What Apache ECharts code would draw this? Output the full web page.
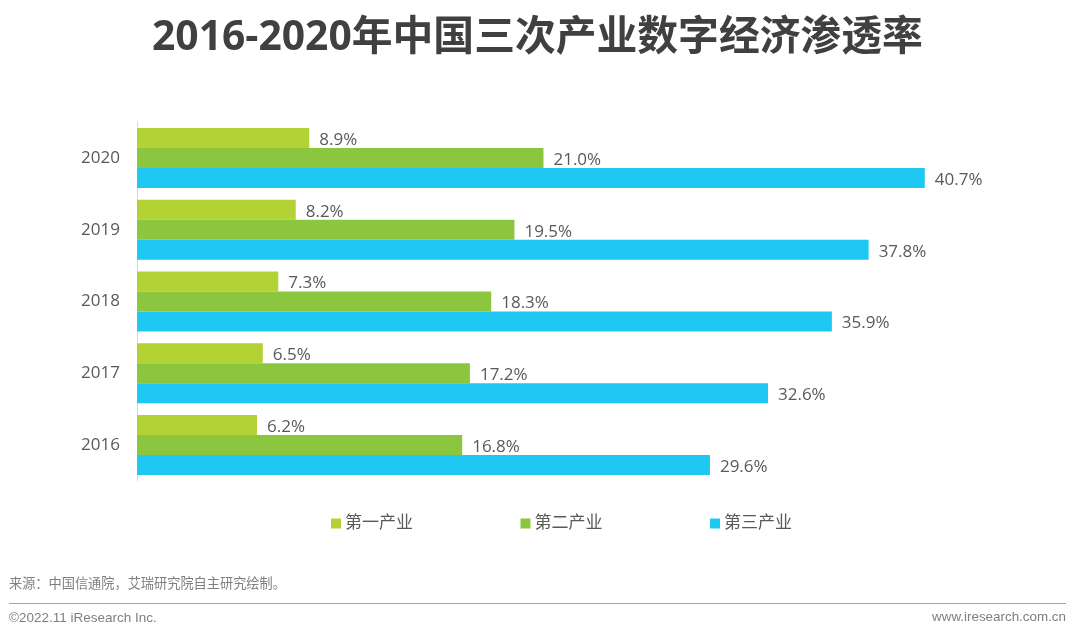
<!DOCTYPE html>
<html>
<head>
<meta charset="utf-8">
<style>
html, body { margin: 0; padding: 0; background: #fff; }
#main { width: 1080px; height: 638px; }
</style>
<script src="https://cdn.jsdelivr.net/npm/echarts@6/dist/echarts.min.js"></script>
</head>
<body>
<div id="main"></div>
<script>
var years = ['2020', '2019', '2018', '2017', '2016'];
var primary = [8.9, 8.2, 7.3, 6.5, 6.2];
var secondary = [21.0, 19.5, 18.3, 17.2, 16.8];
var tertiary = [40.7, 37.8, 35.9, 32.6, 29.6];
var seriesNames = ['第一产业', '第二产业', '第三产业'];
var seriesColors = ['#b2d235', '#8cc63f', '#1ec8f2'];

var fontStack = '"Open Sans", "Noto Sans CJK SC", sans-serif';

function makeSeries(idx, values) {
    return {
        name: seriesNames[idx],
        type: 'bar',
        data: values,
        barWidth: 20,
        barGap: 0,
        itemStyle: { color: seriesColors[idx] },
        label: {
            show: true,
            position: 'right',
            distance: 10,
            offset: [0, 2],
            color: '#595959',
            fontFamily: fontStack,
            fontSize: 17,
            formatter: function (p) {
                return p.value.toFixed(1) + '%';
            }
        }
    };
}

var myChart = echarts.init(document.getElementById('main'), null, { renderer: 'canvas' });
myChart.setOption({
    animation: false,
    backgroundColor: '#fff',
    title: {
        text: '2016-2020年中国三次产业数字经济渗透率',
        left: 147,
        top: 13,
        textStyle: {
            fontFamily: fontStack,
            fontSize: 40.8,
            fontWeight: 'bold',
            color: '#404040'
        }
    },
    grid: { left: 137, top: 122, width: 871, height: 359 },
    legend: {
        left: 331,
        top: 515,
        padding: 0,
        itemWidth: 10,
        itemHeight: 10,
        itemGap: 107.5,
        icon: 'rect',
        data: seriesNames,
        textStyle: {
            fontFamily: fontStack,
            fontSize: 17,
            color: '#595959',
            padding: [0, 0, 0, -1]
        }
    },
    xAxis: { type: 'value', min: 0, max: 45, show: false },
    yAxis: {
        type: 'category',
        inverse: true,
        data: years,
        axisLine: { lineStyle: { color: '#d9d9d9', width: 1 } },
        axisTick: { show: false },
        axisLabel: {
            margin: 17,
            color: '#595959',
            fontFamily: fontStack,
            fontSize: 17
        }
    },
    series: [
        makeSeries(0, primary),
        makeSeries(1, secondary),
        makeSeries(2, tertiary)
    ],
    graphic: [
        {
            type: 'text', left: 9, top: 578,
            style: {
                text: '来源：中国信通院，艾瑞研究院自主研究绘制。',
                fill: '#7f7f7f',
                font: '13.2px "Liberation Sans", "Noto Sans CJK SC", sans-serif'
            }
        },
        {
            type: 'rect',
            shape: { x: 9, y: 603, width: 1057, height: 1 },
            style: { fill: '#a6a6a6' }
        },
        {
            type: 'text', left: 9, top: 611,
            style: {
                text: '©2022.11 iResearch Inc.',
                fill: '#7f7f7f',
                font: '13.5px "Liberation Sans", sans-serif'
            }
        },
        {
            type: 'text', right: 14, top: 611,
            style: {
                text: 'www.iresearch.com.cn',
                fill: '#7f7f7f',
                font: '13.4px "Liberation Sans", sans-serif'
            }
        }
    ]
});
</script>
</body>
</html>
